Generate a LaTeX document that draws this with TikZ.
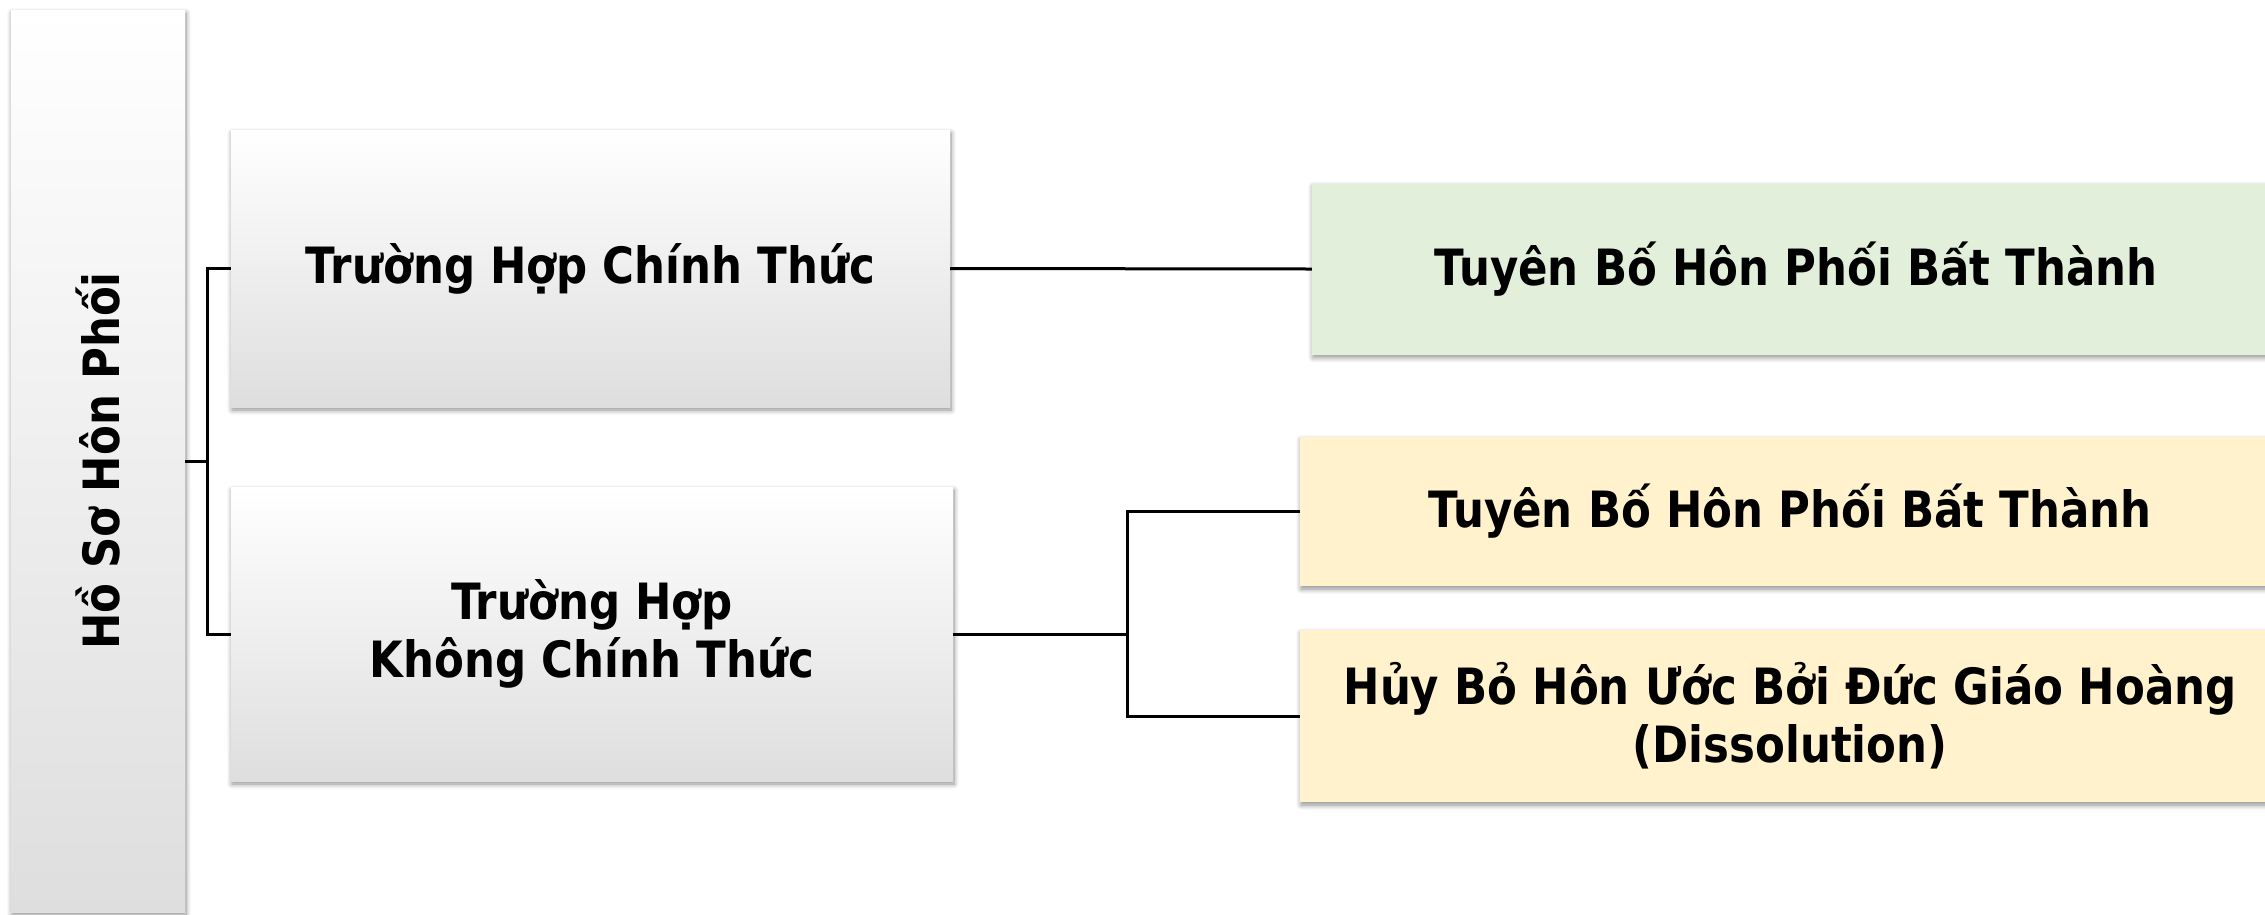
\documentclass[tikz,border=0pt]{standalone}
\usepackage{fontspec}
\setmainfont{DejaVu Sans}[FakeStretch=0.87]
\usetikzlibrary{positioning, shadows.blur}

\definecolor{greenfill}{HTML}{E2EFDA}
\definecolor{yellowfill}{HTML}{FFF2CC}
\definecolor{boxgray}{HTML}{DEDEDE}

\begin{document}
\begin{tikzpicture}[x=1pt, y=-1pt,
                font=\fontsize{50}{58}\selectfont\bfseries,
                softshadow/.style={blur shadow={shadow xshift=1pt, shadow yshift=-3pt,
                    shadow blur radius=5pt, shadow blur steps=8, shadow opacity=45}},
                casebox/.style={draw=none, top color=white, bottom color=boxgray,
                    align=center, inner sep=0pt, softshadow},
                resultbox/.style={draw=none, align=center, inner sep=0pt, softshadow},
                link/.style={draw, line width=3pt}]
                \useasboundingbox (0,0) rectangle (2265,914);

                % Root column on the left
                \node[casebox, minimum width=174pt, minimum height=902pt] (root) at (98,461) {};
                \node[rotate=90] (roottext) at (root.center) {Hồ Sơ Hôn Phối};

                % The two kinds of case
                \node[casebox, minimum width=719pt, minimum height=277pt] (formal) at (590.5,268.5) {Trường Hợp Chính Thức};
                \node[casebox, minimum width=722pt, minimum height=294pt] (informal) at (592,634) {Trường Hợp\\Không Chính Thức};

                % Outcomes
                \node[resultbox, fill=greenfill, minimum width=968pt, minimum height=171pt] (nullity) at (1796,269) {Tuyên Bố Hôn Phối Bất Thành};
                \node[resultbox, fill=yellowfill, minimum width=980pt, minimum height=149pt] (annul) at (1790,511.5) {Tuyên Bố Hôn Phối Bất Thành};
                \node[resultbox, fill=yellowfill, minimum width=980pt, minimum height=172pt] (dissol) at (1790,716) {Hủy Bỏ Hôn Ước Bởi Đức Giáo Hoàng\\(Dissolution)};

                % Connectors
                \draw[link] (root.east) -- ++(22,0) coordinate (fork) |- (formal.west);
                \draw[link] (fork) |- (informal.west);
                \draw[link] (formal.east) -- (nullity.west);
                \draw[link] (informal.east) -- ++(174,0) coordinate (split) |- (annul.west);
                \draw[link] (split) |- (dissol.west);
            \end{tikzpicture}
\end{document}
